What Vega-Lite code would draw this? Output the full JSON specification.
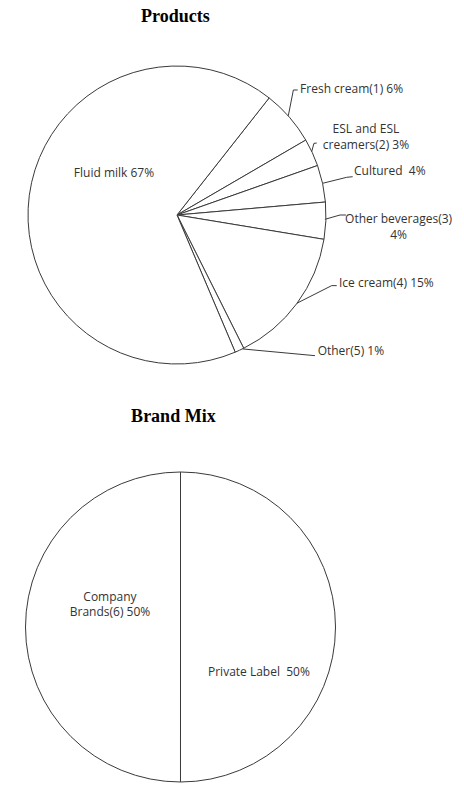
{
  "$schema": "https://vega.github.io/schema/vega-lite/v6.json",
  "padding": 0,
  "spacing": 0,
  "background": "white",
  "config": {"view": {"stroke": null}},
  "datasets": {
    "products": [
      {"category": "Fresh cream(1)", "share": 6, "ord": 1},
      {"category": "ESL and ESL creamers(2)", "share": 3, "ord": 2},
      {"category": "Cultured", "share": 4, "ord": 3},
      {"category": "Other beverages(3)", "share": 4, "ord": 4},
      {"category": "Ice cream(4)", "share": 15, "ord": 5},
      {"category": "Other(5)", "share": 1, "ord": 6},
      {"category": "Fluid milk", "share": 67, "ord": 7}
    ],
    "productLeaders": [
      {"category": "Fresh cream(1)", "seq": 1, "px": 74.7, "py": 66.6},
      {"category": "Fresh cream(1)", "seq": 2, "px": 78.1, "py": 83.9},
      {"category": "Fresh cream(1)", "seq": 3, "px": 81.0, "py": 83.9},
      {"category": "ESL and ESL creamers(2)", "seq": 1, "px": 90.4, "py": 42.5},
      {"category": "ESL and ESL creamers(2)", "seq": 2, "px": 91.9, "py": 48.1},
      {"category": "ESL and ESL creamers(2)", "seq": 3, "px": 93.8, "py": 48.3},
      {"category": "Cultured", "seq": 1, "px": 97.8, "py": 21.3},
      {"category": "Cultured", "seq": 2, "px": 113.9, "py": 25.3},
      {"category": "Cultured", "seq": 3, "px": 117.9, "py": 25.7},
      {"category": "Other beverages(3)", "seq": 1, "px": 99.3, "py": -2.9},
      {"category": "Other beverages(3)", "seq": 2, "px": 109.4, "py": 0},
      {"category": "Other beverages(3)", "seq": 3, "px": 113.4, "py": 0},
      {"category": "Ice cream(4)", "seq": 1, "px": 80.3, "py": -59.3},
      {"category": "Ice cream(4)", "seq": 2, "px": 103.8, "py": -47.4},
      {"category": "Ice cream(4)", "seq": 3, "px": 107.2, "py": -47.4},
      {"category": "Other(5)", "seq": 1, "px": 44.1, "py": -89.9},
      {"category": "Other(5)", "seq": 2, "px": 92.6, "py": -94.4}
    ],
    "productLabelsLeft": [
      {"label": "Fresh cream(1) 6%", "px": 82.6, "py": 84.6},
      {"label": "Cultured\u00a0 4%", "px": 118.8, "py": 29.5},
      {"label": "Ice cream(4) 15%", "px": 108.7, "py": -45.8},
      {"label": "Other(5) 1%", "px": 94.4, "py": -91.3}
    ],
    "productLabelsCenter": [
      {"label": "ESL and ESL\ncreamers(2) 3%", "px": 126.8, "py": 57.4},
      {"label": "Other beverages(3)\n4%", "px": 148.7, "py": -2.8},
      {"label": "Fluid milk 67%", "px": -42.3, "py": 28.0}
    ],
    "brands": [
      {"category": "Private Label", "share": 50, "ord": 1},
      {"category": "Company Brands(6)", "share": 50, "ord": 2}
    ],
    "brandLabels": [
      {"label": "Company\nBrands(6) 50%", "px": -45.5, "py": 19.5},
      {"label": "Private Label\u00a0 50%", "px": 50.6, "py": -28.8}
    ],
    "titles1": [{"label": "Products", "px": -1.1, "py": 132.9}],
    "titles2": [{"label": "Brand Mix", "px": -4.6, "py": 135.5}]
  },
  "vconcat": [
    {
      "width": 464,
      "height": 400,
      "encoding": {
        "x": {"type": "quantitative", "axis": null, "scale": {"domain": [-118.79, 192.62], "nice": false, "zero": false}},
        "y": {"type": "quantitative", "axis": null, "scale": {"domain": [-124.16, 144.30], "nice": false, "zero": false}}
      },
      "layer": [
        {
          "data": {"name": "products"},
          "mark": {"type": "arc", "outerRadius": 149, "fill": "white", "stroke": "#3a3a3a", "strokeWidth": 1},
          "encoding": {
            "x": {"datum": 0, "type": "quantitative"},
            "y": {"datum": 0, "type": "quantitative"},
            "theta": {"field": "share", "type": "quantitative", "stack": true, "scale": {"domain": [0, 100], "range": [0.6667, 6.9499]}},
            "order": {"field": "ord", "type": "quantitative"}
          }
        },
        {
          "data": {"name": "productLeaders"},
          "mark": {"type": "line", "stroke": "#3a3a3a", "strokeWidth": 1},
          "encoding": {
            "x": {"field": "px", "type": "quantitative"},
            "y": {"field": "py", "type": "quantitative"},
            "detail": {"field": "category"},
            "order": {"field": "seq", "type": "quantitative"}
          }
        },
        {
          "data": {"name": "productLabelsLeft"},
          "mark": {"type": "text", "align": "left", "baseline": "middle", "font": "Open Sans", "fontSize": 12, "color": "#333333"},
          "encoding": {
            "x": {"field": "px", "type": "quantitative"},
            "y": {"field": "py", "type": "quantitative"},
            "text": {"field": "label"}
          }
        },
        {
          "data": {"name": "productLabelsCenter"},
          "mark": {"type": "text", "align": "center", "baseline": "middle", "font": "Open Sans", "fontSize": 12, "lineHeight": 15.6, "lineBreak": "\n", "color": "#333333"},
          "encoding": {
            "x": {"field": "px", "type": "quantitative"},
            "y": {"field": "py", "type": "quantitative"},
            "text": {"field": "label"}
          }
        },
        {
          "data": {"name": "titles1"},
          "mark": {"type": "text", "align": "center", "baseline": "middle", "font": "Liberation Serif", "fontWeight": "bold", "fontSize": 18, "color": "black"},
          "encoding": {
            "x": {"field": "px", "type": "quantitative"},
            "y": {"field": "py", "type": "quantitative"},
            "text": {"field": "label"}
          }
        }
      ]
    },
    {
      "width": 464,
      "height": 403,
      "encoding": {
        "x": {"type": "quantitative", "axis": null, "scale": {"domain": [-116.45, 182.9], "nice": false, "zero": false}},
        "y": {"type": "quantitative", "axis": null, "scale": {"domain": [-113.55, 146.45], "nice": false, "zero": false}}
      },
      "layer": [
        {
          "data": {"name": "brands"},
          "mark": {"type": "arc", "outerRadius": 155, "fill": "white", "stroke": "#3a3a3a", "strokeWidth": 1},
          "encoding": {
            "x": {"datum": 0, "type": "quantitative"},
            "y": {"datum": 0, "type": "quantitative"},
            "theta": {"field": "share", "type": "quantitative", "stack": true, "scale": {"domain": [0, 100], "range": [0, 6.2832]}},
            "order": {"field": "ord", "type": "quantitative"}
          }
        },
        {
          "data": {"name": "brandLabels"},
          "mark": {"type": "text", "align": "center", "baseline": "middle", "font": "Open Sans", "fontSize": 12, "lineHeight": 15.6, "lineBreak": "\n", "color": "#333333"},
          "encoding": {
            "x": {"field": "px", "type": "quantitative"},
            "y": {"field": "py", "type": "quantitative"},
            "text": {"field": "label"}
          }
        },
        {
          "data": {"name": "titles2"},
          "mark": {"type": "text", "align": "center", "baseline": "middle", "font": "Liberation Serif", "fontWeight": "bold", "fontSize": 18, "color": "black"},
          "encoding": {
            "x": {"field": "px", "type": "quantitative"},
            "y": {"field": "py", "type": "quantitative"},
            "text": {"field": "label"}
          }
        }
      ]
    }
  ]
}
